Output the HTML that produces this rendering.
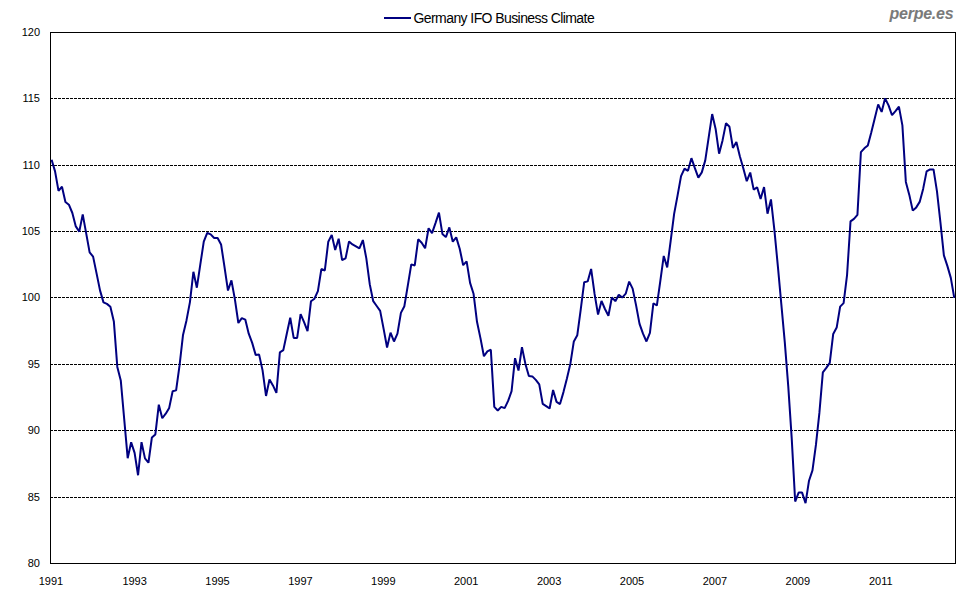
<!DOCTYPE html>
<html><head><meta charset="utf-8"><style>
html,body{margin:0;padding:0;background:#fff;}
body{width:980px;height:600px;position:relative;overflow:hidden;font-family:"Liberation Sans",Arial,sans-serif;color:#000;}
svg{position:absolute;left:0;top:0;}
.yl{position:absolute;left:0;width:40px;text-align:right;font-size:11px;line-height:13px;height:13px;}
.xl{position:absolute;top:575px;width:40px;text-align:center;font-size:11px;line-height:13px;}
.leg{position:absolute;left:413.5px;top:10px;font-size:14px;letter-spacing:-0.58px;line-height:16px;white-space:nowrap;}
.logo{position:absolute;left:889.5px;top:4px;font-size:16px;letter-spacing:-0.25px;line-height:20px;font-weight:bold;font-style:italic;color:#7a7a7a;white-space:nowrap;}
</style></head><body>
<svg width="980" height="600" viewBox="0 0 980 600">
<g stroke="#000" stroke-width="1" stroke-dasharray="3 1" fill="none"><line x1="50" y1="98.5" x2="955" y2="98.5"/><line x1="50" y1="165.5" x2="955" y2="165.5"/><line x1="50" y1="231.5" x2="955" y2="231.5"/><line x1="50" y1="297.5" x2="955" y2="297.5"/><line x1="50" y1="364.5" x2="955" y2="364.5"/><line x1="50" y1="430.5" x2="955" y2="430.5"/><line x1="50" y1="497.5" x2="955" y2="497.5"/></g>
<rect x="50.5" y="32.5" width="905" height="531" fill="none" stroke="#000" stroke-width="1"/>
<line x1="384" y1="18" x2="411" y2="18" stroke="#000080" stroke-width="2"/>
<polyline fill="none" stroke="#000080" stroke-width="2" stroke-linejoin="bevel" points="51.60,159.70 55.06,171.40 58.52,190.91 61.98,186.69 65.43,202.00 68.89,204.70 72.35,213.00 75.81,226.40 79.27,231.62 82.73,214.41 86.19,233.40 89.64,252.40 93.10,256.60 96.56,273.40 100.02,290.40 103.48,302.40 106.94,303.90 110.39,306.70 113.85,321.40 117.31,366.90 120.77,380.40 124.23,419.40 127.69,458.17 131.15,442.23 134.60,452.90 138.06,475.24 141.52,442.12 144.98,458.40 148.44,462.75 151.90,437.40 155.35,434.40 158.81,404.67 162.27,418.26 165.73,413.70 169.19,407.90 172.65,391.20 176.11,390.40 179.56,365.40 183.02,334.90 186.48,320.40 189.94,302.10 193.40,271.83 196.86,287.67 200.32,264.40 203.77,241.70 207.23,232.82 210.69,234.40 214.15,238.00 217.61,238.00 221.07,244.40 224.52,267.10 227.98,290.54 231.44,280.36 234.90,299.40 238.36,322.98 241.82,318.13 245.28,319.60 248.73,333.70 252.19,342.90 255.65,354.90 259.11,354.60 262.57,370.40 266.03,395.98 269.49,379.43 272.94,385.40 276.40,392.85 279.86,352.40 283.32,350.10 286.78,333.70 290.24,317.72 293.69,337.90 297.15,337.90 300.61,314.02 304.07,322.10 307.53,331.12 310.99,301.20 314.45,298.70 317.90,291.20 321.36,269.04 324.82,270.46 328.28,241.70 331.74,234.88 335.20,249.97 338.66,238.73 342.11,259.98 345.57,258.40 349.03,241.38 352.49,244.40 355.95,246.40 359.41,248.42 362.87,240.01 366.32,258.40 369.78,284.40 373.24,301.20 376.70,306.00 380.16,310.90 383.62,328.90 387.07,347.45 390.53,332.61 393.99,341.47 397.45,333.70 400.91,312.90 404.37,306.20 407.83,285.40 411.28,264.36 414.74,265.44 418.20,239.33 421.66,242.80 425.12,248.34 428.58,228.24 432.04,233.06 435.49,223.10 438.95,212.63 442.41,233.90 445.87,237.14 449.33,227.36 452.79,241.72 456.24,237.38 459.70,248.70 463.16,265.18 466.62,261.32 470.08,282.90 473.54,293.70 477.00,321.80 480.45,338.10 483.91,356.29 487.37,351.40 490.83,349.71 494.29,406.90 497.75,410.48 501.20,406.84 504.66,408.16 508.12,400.90 511.58,391.20 515.04,358.20 518.50,370.60 521.96,347.11 525.41,363.90 528.87,376.10 532.33,376.40 535.79,379.90 539.25,384.40 542.71,403.90 546.17,406.10 549.62,408.46 553.08,389.99 556.54,401.90 560.00,404.03 563.46,392.10 566.92,378.40 570.38,363.70 573.83,341.40 577.29,335.20 580.75,309.40 584.21,282.20 587.67,281.40 591.13,268.98 594.58,293.90 598.04,314.63 601.50,300.92 604.96,309.00 608.42,315.71 611.88,297.32 615.34,301.18 618.79,294.71 622.25,297.59 625.71,293.70 629.17,281.57 632.63,288.60 636.09,305.40 639.54,323.90 643.00,333.70 646.46,341.47 649.92,332.90 653.38,303.27 656.84,305.53 660.30,281.20 663.75,255.92 667.21,267.38 670.67,240.90 674.13,213.90 677.59,195.40 681.05,176.10 684.51,168.57 687.96,170.83 691.42,158.14 694.88,168.20 698.34,177.62 701.80,172.40 705.26,160.40 708.72,137.10 712.17,114.04 715.63,128.90 719.09,153.63 722.55,140.40 726.01,123.11 729.47,126.80 732.92,147.94 736.38,141.96 739.84,156.30 743.30,168.20 746.76,181.18 750.22,172.52 753.68,189.65 757.13,187.25 760.59,199.09 764.05,187.01 767.51,213.64 770.97,199.46 774.43,230.40 777.88,266.40 781.34,304.40 784.80,342.40 788.26,386.40 791.72,438.40 795.18,501.52 798.64,492.60 802.09,492.60 805.55,503.17 809.01,480.70 812.47,470.40 815.93,444.90 819.39,412.90 822.85,372.40 826.30,367.90 829.76,362.90 833.22,333.90 836.68,327.60 840.14,306.60 843.60,303.10 847.05,275.10 850.51,221.40 853.97,218.90 857.43,214.90 860.89,152.20 864.35,148.30 867.81,145.40 871.26,132.40 874.72,118.40 878.18,104.37 881.64,111.93 885.10,98.37 888.56,105.40 892.02,115.22 895.47,111.20 898.93,106.64 902.39,125.40 905.85,181.90 909.31,194.90 912.77,210.64 916.23,207.40 919.68,201.90 923.14,188.90 926.60,171.40 930.06,169.40 933.52,169.40 936.98,191.40 940.43,222.40 943.89,255.40 947.35,265.90 950.81,277.90 954.27,297.90"/>
</svg>
<div class="yl" style="top:26px">120</div><div class="yl" style="top:92px">115</div><div class="yl" style="top:159px">110</div><div class="yl" style="top:225px">105</div><div class="yl" style="top:291px">100</div><div class="yl" style="top:358px">95</div><div class="yl" style="top:424px">90</div><div class="yl" style="top:491px">85</div><div class="yl" style="top:557px">80</div>
<div class="xl" style="left:31.00px">1991</div><div class="xl" style="left:114.63px">1993</div><div class="xl" style="left:197.53px">1995</div><div class="xl" style="left:280.43px">1997</div><div class="xl" style="left:363.33px">1999</div><div class="xl" style="left:446.23px">2001</div><div class="xl" style="left:529.13px">2003</div><div class="xl" style="left:612.03px">2005</div><div class="xl" style="left:694.93px">2007</div><div class="xl" style="left:777.83px">2009</div><div class="xl" style="left:860.73px">2011</div>
<div class="leg">Germany IFO Business Climate</div>
<div class="logo">perpe.es</div>
</body></html>
